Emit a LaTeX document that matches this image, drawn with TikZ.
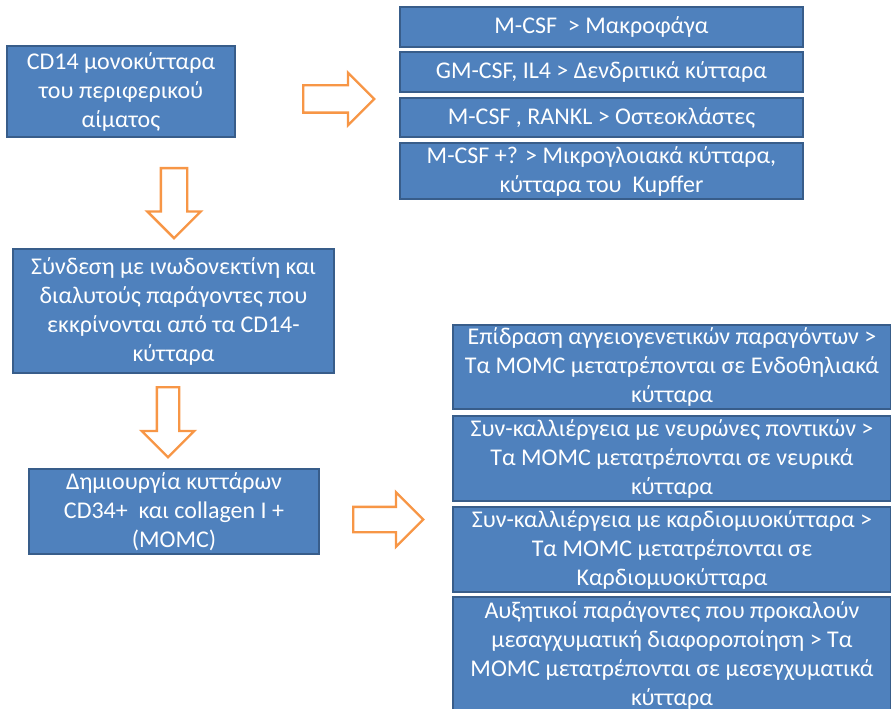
\documentclass[tikz,border=0pt]{standalone}
\usepackage{fontspec}
\setmainfont{Carlito}
\usetikzlibrary{shapes.arrows}
\definecolor{boxblue}{HTML}{4F81BD}
\definecolor{boxedge}{HTML}{385D8A}
\definecolor{arroworange}{HTML}{F79646}
\tikzset{
	cellbox/.style={draw=boxedge, line width=1.5pt, fill=boxblue, text=white, align=center,
		inner sep=0pt, font=\fontsize{18pt}{21.75pt}\selectfont},
	upperbox/.style={cellbox, minimum width=302.25pt},
	lowerbox/.style={cellbox, minimum width=328.5pt},
	hollowarrow/.style={single arrow, draw=arroworange, line width=1.8pt, fill=white,
		inner xsep=0pt, single arrow head indent=0pt, anchor=tail}
}
\begin{document}
\begin{tikzpicture}[x=0.75pt, y=-0.75pt]
			\useasboundingbox (0,0) rectangle (891,709);
			% left column
			\node[cellbox, minimum width=171pt, minimum height=68.25pt] (cdmono) at (121,91.5)
			{CD14 μονοκύτταρα\\του περιφερικού\\αίματος};
			\node[cellbox, minimum width=240.75pt, minimum height=93pt] (syndesi) at (173.5,311)
			{Σύνδεση με ινωδονεκτίνη και\\διαλυτούς παράγοντες που\\εκκρίνονται από τα CD14-\\κύτταρα};
			\node[cellbox, minimum width=217.5pt, minimum height=63.75pt] (momc) at (174,511.5)
			{Δημιουργία κυττάρων\\CD34+~ και collagen I +\\(MOMC)};
			% upper right stack
			\node[upperbox, minimum height=30pt] (mcsf) at (601.5,27) {M-CSF~ > Μακροφάγα};
			\node[upperbox, minimum height=30pt] (gmcsf) at (601.5,72) {GM-CSF, IL4 > Δενδριτικά κύτταρα};
			\node[upperbox, minimum height=29.25pt] (rankl) at (601.5,117.5) {M-CSF , RANKL > Οστεοκλάστες};
			\node[upperbox, minimum height=42pt] (mikroglia) at (601.5,171)
			{M-CSF +? > Μικρογλοιακά κύτταρα,\\κύτταρα του~ Kupffer};
			% lower right stack
			\node[lowerbox, minimum height=63pt] (endo) at (672,367)
			{Επίδραση αγγειογενετικών παραγόντων >\\Τα MOMC μετατρέπονται σε Ενδοθηλιακά\\κύτταρα};
			\node[lowerbox, minimum height=63.75pt] (neuro) at (672,458.5)
			{Συν-καλλιέργεια με νευρώνες ποντικών >\\Τα MOMC μετατρέπονται σε νευρικά\\κύτταρα};
			\node[lowerbox, minimum height=63.75pt] (kardio) at (672,549.5)
			{Συν-καλλιέργεια με καρδιομυοκύτταρα >\\Τα MOMC μετατρέπονται σε\\Καρδιομυοκύτταρα};
			\node[lowerbox, minimum height=87.75pt] (mesen) at (672,655.5)
			{Αυξητικοί παράγοντες που προκαλούν\\μεσαγχυματική διαφοροποίηση > Τα\\MOMC μετατρέπονται σε μεσεγχυματικά\\κύτταρα};
			% block arrows, placed by their tails
			\foreach \an/\ax/\ay/\rot/\len/\shaft/\head in {
					toright/302/99/0/71/25/50,
					todown/174/167/-90/70/24/51,
					tomomc/168/386/-90/70/20/50,
					tostack/352/519.5/0/70/23/52
				} {
					\pgfmathsetmacro{\ext}{(\head-\shaft)*0.375}
					\pgfmathsetmacro{\sep}{\shaft*0.375}
					\pgfmathsetmacro{\lng}{\len*0.75}
					\node[hollowarrow, rotate=\rot, minimum height=\lng pt, inner ysep=\sep pt,
						single arrow head extend=\ext pt] (\an) at (\ax,\ay) {};
				}
		\end{tikzpicture}
\end{document}
